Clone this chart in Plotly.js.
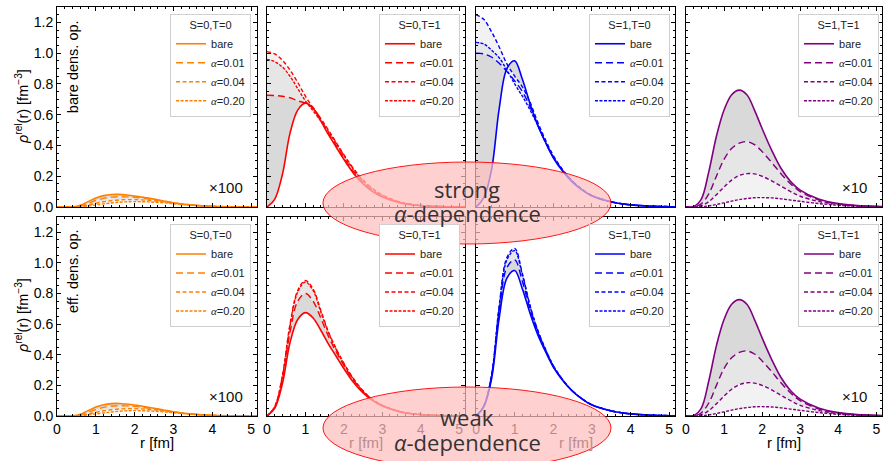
<!DOCTYPE html>
<html><head><meta charset="utf-8">
<script src="https://cdn.plot.ly/plotly-3.0.1.min.js"></script>
<style>html,body{margin:0;padding:0;background:#fff}#chart{width:883px;height:461px}</style>
</head><body><div id="chart"></div><script>
// radial grid [fm]
const r = [0, 0.2, 0.4, 0.6, 0.8, 1.0, 1.2, 1.4, 1.6, 1.8, 2.0, 2.25, 2.5, 2.75, 3.0, 3.5, 4.0, 4.5, 5.0, 5.2];

// S=0,T=0 (x100)
const s00_bare = [0, 0, 0.001, 0.012, 0.035, 0.058, 0.074, 0.081, 0.082, 0.078, 0.072, 0.062, 0.051, 0.039, 0.028, 0.012, 0.004, 0.001, 0, 0];
const s00_a01  = [0, 0, 0.001, 0.008, 0.024, 0.042, 0.056, 0.064, 0.067, 0.066, 0.063, 0.056, 0.047, 0.037, 0.027, 0.012, 0.004, 0.001, 0, 0];
const s00_a04  = [0, 0, 0, 0.004, 0.013, 0.024, 0.034, 0.041, 0.046, 0.048, 0.048, 0.045, 0.040, 0.033, 0.025, 0.012, 0.004, 0.001, 0, 0];
const s00_a20  = [0, 0, 0, 0.002, 0.007, 0.013, 0.020, 0.026, 0.031, 0.034, 0.035, 0.034, 0.031, 0.027, 0.021, 0.011, 0.004, 0.001, 0, 0];

// S=0,T=1 bare density operator
const b01_bare = [0, 0.05, 0.21, 0.48, 0.63, 0.675, 0.64, 0.56, 0.47, 0.39, 0.31, 0.22, 0.15, 0.10, 0.065, 0.025, 0.009, 0.003, 0.001, 0];
const b01_a01  = [0.726, 0.725, 0.72, 0.71, 0.69, 0.675, 0.645, 0.57, 0.48, 0.40, 0.32, 0.23, 0.16, 0.105, 0.068, 0.026, 0.009, 0.003, 0.001, 0];
const b01_a04  = [1.01, 0.995, 0.955, 0.89, 0.81, 0.72, 0.645, 0.575, 0.50, 0.42, 0.34, 0.25, 0.175, 0.12, 0.078, 0.03, 0.011, 0.004, 0.001, 0];
const b01_a20  = [0.96, 0.945, 0.91, 0.85, 0.77, 0.69, 0.625, 0.56, 0.49, 0.415, 0.335, 0.245, 0.17, 0.115, 0.075, 0.029, 0.010, 0.003, 0.001, 0];

// S=1,T=0 bare density operator
const b10_bare = [0, 0.06, 0.24, 0.64, 0.90, 0.95, 0.83, 0.67, 0.53, 0.42, 0.32, 0.23, 0.16, 0.11, 0.072, 0.033, 0.014, 0.006, 0.002, 0.001];
const b10_a01  = [1.0, 0.995, 0.975, 0.935, 0.88, 0.82, 0.75, 0.65, 0.53, 0.42, 0.325, 0.235, 0.165, 0.112, 0.074, 0.034, 0.014, 0.006, 0.002, 0.001];
const b10_a04  = [1.25, 1.22, 1.14, 1.04, 0.93, 0.85, 0.78, 0.68, 0.55, 0.435, 0.335, 0.24, 0.168, 0.114, 0.075, 0.034, 0.014, 0.006, 0.002, 0.001];
const b10_a20  = [1.07, 1.06, 1.02, 0.97, 0.89, 0.80, 0.72, 0.63, 0.53, 0.42, 0.325, 0.235, 0.165, 0.112, 0.074, 0.034, 0.014, 0.006, 0.002, 0.001];

// S=1,T=1 (x10)
const s11_bare = [0, 0.003, 0.05, 0.23, 0.46, 0.63, 0.73, 0.76, 0.73, 0.63, 0.51, 0.37, 0.25, 0.165, 0.11, 0.05, 0.022, 0.009, 0.004, 0.003];
const s11_a01  = [0, 0.001, 0.02, 0.085, 0.20, 0.31, 0.38, 0.415, 0.425, 0.405, 0.36, 0.29, 0.215, 0.15, 0.10, 0.045, 0.02, 0.008, 0.003, 0.002];
const s11_a04  = [0, 0, 0.008, 0.035, 0.08, 0.13, 0.175, 0.205, 0.217, 0.215, 0.20, 0.17, 0.135, 0.10, 0.07, 0.035, 0.016, 0.007, 0.003, 0.002];
const s11_a20  = [0, 0, 0.002, 0.007, 0.016, 0.027, 0.038, 0.048, 0.055, 0.06, 0.061, 0.059, 0.053, 0.045, 0.037, 0.022, 0.011, 0.005, 0.002, 0.001];

// S=0,T=1 effective density operator
const e01_a01  = [0, 0.055, 0.24, 0.55, 0.75, 0.80, 0.75, 0.64, 0.52, 0.42, 0.33, 0.235, 0.158, 0.104, 0.068, 0.026, 0.009, 0.003, 0.001, 0];
const e01_a04  = [0, 0.06, 0.26, 0.60, 0.82, 0.885, 0.83, 0.69, 0.55, 0.44, 0.345, 0.245, 0.165, 0.108, 0.07, 0.027, 0.01, 0.003, 0.001, 0];
const e01_a20  = [0, 0.06, 0.255, 0.59, 0.81, 0.875, 0.82, 0.68, 0.545, 0.435, 0.34, 0.24, 0.162, 0.106, 0.069, 0.027, 0.01, 0.003, 0.001, 0];

// S=1,T=0 effective density operator
const e10_a01  = [0, 0.063, 0.255, 0.69, 0.97, 1.02, 0.88, 0.695, 0.545, 0.43, 0.325, 0.232, 0.162, 0.111, 0.073, 0.033, 0.014, 0.006, 0.002, 0.001];
const e10_a04  = [0, 0.065, 0.265, 0.72, 1.035, 1.095, 0.93, 0.72, 0.56, 0.435, 0.33, 0.235, 0.163, 0.112, 0.073, 0.034, 0.014, 0.006, 0.002, 0.001];
const e10_a20  = [0, 0.065, 0.262, 0.71, 1.02, 1.08, 0.92, 0.715, 0.555, 0.433, 0.328, 0.234, 0.163, 0.112, 0.073, 0.034, 0.014, 0.006, 0.002, 0.001];

const channelLabels = ['S=0,T=0', 'S=0,T=1', 'S=1,T=0', 'S=1,T=1'];
const channelColors = ['#ff8000', '#ff0000', '#0000ff', '#800080'];
const seriesNames = ['bare', '<span style="font-family:Liberation Serif"><i>α</i></span>=0.01',
  '<span style="font-family:Liberation Serif"><i>α</i></span>=0.04',
  '<span style="font-family:Liberation Serif"><i>α</i></span>=0.20'];

const panels = [
  [s00_bare, s00_a01, s00_a04, s00_a20],
  [b01_bare, b01_a01, b01_a04, b01_a20],
  [b10_bare, b10_a01, b10_a04, b10_a20],
  [s11_bare, s11_a01, s11_a04, s11_a20],
  [s00_bare, s00_a01, s00_a04, s00_a20],
  [b01_bare, e01_a01, e01_a04, e01_a20],
  [b10_bare, e10_a01, e10_a04, e10_a20],
  [s11_bare, s11_a01, s11_a04, s11_a20]
];

const colDom = [[0, 0.2424], [0.2545, 0.4945], [0.5079, 0.7491], [0.7624, 1]];
const rowDom = [[0.511, 1], [0, 0.4866]];
const legX = [0.2352, 0.4885, 0.743, 0.9964];
const legY = [0.983, 0.469];
const fills = ['#d9d9d9', '#e6e6e6', '#f2f2f2'];
const dashes = ['solid', '7px,4px', '4px,2.5px', '3px,1.5px'];
const FONT = 'Liberation Sans, Arial, sans-serif';

const traces = [];
const layout = {
  width: 883, height: 461,
  margin: {l: 57, r: 1, t: 7, b: 45},
  paper_bgcolor: '#fff', plot_bgcolor: '#fff',
  font: {family: FONT, size: 14, color: '#000'},
  hovermode: false,
  annotations: [], shapes: []
};

panels.forEach((d, p) => {
  const row = Math.floor(p / 4), col = p % 4;
  const sfx = p === 0 ? '' : String(p + 1);
  const xa = 'x' + sfx, ya = 'y' + sfx;
  const legKey = 'legend' + sfx;
  // fills
  traces.push({x: r, y: d[0], xaxis: xa, yaxis: ya, mode: 'lines', line: {width: 0, shape: 'spline'}, showlegend: false, hoverinfo: 'skip'});
  for (let k = 1; k < 4; k++) {
    traces.push({x: r, y: d[k], xaxis: xa, yaxis: ya, mode: 'lines', fill: 'tonexty', fillcolor: fills[k - 1],
      line: {width: 0, shape: 'spline'}, showlegend: false, hoverinfo: 'skip'});
  }
  // lines
  for (let k = 0; k < 4; k++) {
    traces.push({x: r, y: d[k], xaxis: xa, yaxis: ya, mode: 'lines', name: seriesNames[k], legend: legKey,
      line: {color: channelColors[col], width: k === 0 ? 1.6 : 1.4, dash: dashes[k], shape: 'spline'}, showlegend: true});
  }
  layout['xaxis' + sfx] = {
    domain: colDom[col], anchor: ya, range: [0, 5.15], dtick: 1, tick0: 0,
    ticks: 'inside', ticklen: 4, tickwidth: 1, tickcolor: '#000',
    minor: {dtick: 0.2, ticklen: 2, ticks: 'inside', tickcolor: '#000'},
    showline: true, linecolor: '#000', linewidth: 1, mirror: 'allticks',
    showgrid: false, zeroline: false, showticklabels: row === 1,
    tickfont: {family: FONT, size: 14, color: '#000'}, fixedrange: true
  };
  layout['yaxis' + sfx] = {
    domain: rowDom[row], anchor: xa, range: [0, 1.3], dtick: 0.2, tick0: 0, tickformat: '.1f',
    ticks: 'inside', ticklen: 4, tickwidth: 1, tickcolor: '#000',
    minor: {dtick: 0.05, ticklen: 2, ticks: 'inside', tickcolor: '#000'},
    showline: true, linecolor: '#000', linewidth: 1, mirror: 'allticks',
    showgrid: false, zeroline: false, showticklabels: col === 0,
    tickfont: {family: FONT, size: 14, color: '#000'}, fixedrange: true
  };
  layout[legKey] = {
    x: legX[col], xanchor: 'right', y: legY[row], yanchor: 'top',
    bgcolor: '#fff', bordercolor: '#cfcfcf', borderwidth: 1,
    font: {family: FONT, size: 11, color: '#222'},
    title: {text: channelLabels[col], side: 'top center', font: {family: FONT, size: 11, color: '#222'}},
    traceorder: 'normal', itemwidth: 30
  };
});

const A = layout.annotations;
const ann = (text, x, y, opts) => A.push(Object.assign({text, x, y, xref: 'paper', yref: 'paper', showarrow: false,
  xanchor: 'center', yanchor: 'middle', font: {family: FONT, size: 14.5, color: '#000'}}, opts || {}));

ann('bare dens. op.', 0.0194, 0.853, {textangle: -90});
ann('eff. dens. op.', 0.0194, 0.3545, {textangle: -90});
ann('×100', 0.2048, 0.5575, {font: {family: FONT, size: 15, color: '#111'}});
ann('×100', 0.2048, 0.0465, {font: {family: FONT, size: 15, color: '#111'}});
ann('×10', 0.967, 0.5575, {font: {family: FONT, size: 15, color: '#111'}});
ann('×10', 0.967, 0.0465, {font: {family: FONT, size: 15, color: '#111'}});
const yTitle = '<i>ρ</i><sup>rel</sup>(r) [fm<sup>−3</sup>]';
ann(yTitle, -0.0424, 0.7555, {textangle: -90});
ann(yTitle, -0.0424, 0.2445, {textangle: -90});
// x titles (the middle two lie beneath the translucent ellipse in the reference)
ann('r [fm]', 0.1212, -0.066, {font: {family: FONT, size: 15, color: '#000'}});
ann('r [fm]', 0.3745, -0.066, {font: {family: FONT, size: 15, color: 'rgb(185,140,140)'}});
ann('r [fm]', 0.6285, -0.066, {font: {family: FONT, size: 15, color: 'rgb(185,140,140)'}});
ann('r [fm]', 0.8812, -0.066, {font: {family: FONT, size: 15, color: '#000'}});

const SH = layout.shapes;
const ell = (y0, y1) => SH.push({type: 'circle', xref: 'paper', yref: 'paper', x0: 0.3224, x1: 0.6715, y0, y1,
  fillcolor: 'rgba(255,190,190,0.72)', line: {color: 'rgba(255,0,0,0.9)', width: 1}, layer: 'above'});
ell(0.4205, 0.621);
ell(-0.1296, 0.0709);

const BIG = {family: 'Open Sans, DejaVu Sans, sans-serif', size: 22, color: '#333'};
ann('strong', 0.497, 0.555, {font: BIG});
ann('<i>α</i>-dependence', 0.497, 0.4963, {font: BIG});
ann('weak', 0.497, -0.0024, {font: BIG});
ann('<i>α</i>-dependence', 0.497, -0.0636, {font: BIG});

Plotly.newPlot('chart', traces, layout, {staticPlot: true, displayModeBar: false});
</script></body></html>
